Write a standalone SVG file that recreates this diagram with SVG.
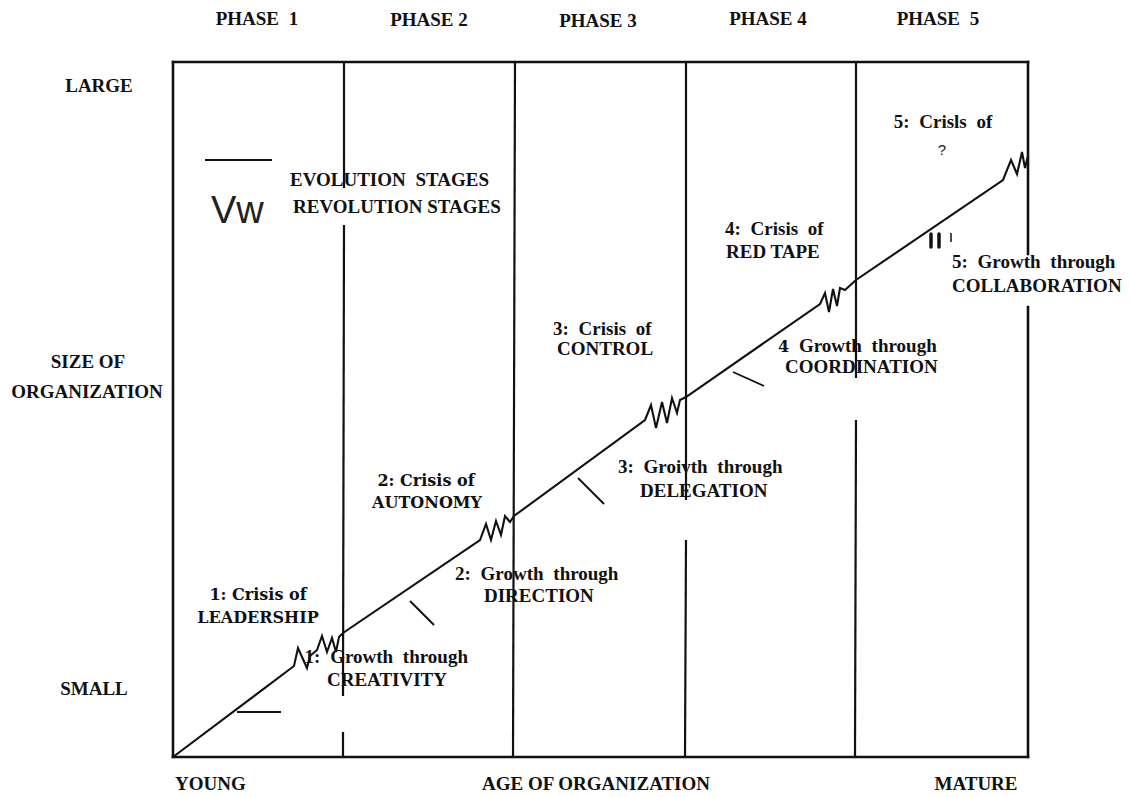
<svg xmlns="http://www.w3.org/2000/svg" width="1130" height="797" viewBox="0 0 1130 797">
<style>
.t{font-family:"Liberation Serif","Times New Roman",serif;font-weight:bold;font-size:19px;fill:#111}
.h{font-family:"DejaVu Serif",serif;font-weight:bold;font-size:16px;fill:#111}
.s{font-family:"Liberation Sans",Arial,sans-serif;fill:#222}
.m{text-anchor:middle}
.ws{word-spacing:5px}
.fr{stroke:#111;stroke-width:2.6;fill:none;stroke-linecap:square}
.dv{stroke:#111;stroke-width:2.2;fill:none}
.cv{stroke:#111;stroke-width:2.1;fill:none;stroke-linejoin:miter}
.ev{stroke:#111;stroke-width:1.9;fill:none}
</style>
<rect width="1130" height="797" fill="#fff"/>
<g id="frame">
<line class="fr" x1="173" y1="62" x2="1028" y2="62"/>
<line class="fr" x1="173" y1="757" x2="1028" y2="757"/>
<line class="fr" x1="173" y1="62" x2="173" y2="757"/>
<line class="fr" x1="1028" y1="62" x2="1028" y2="254"/>
<line class="fr" x1="1028" y1="307" x2="1028" y2="757"/>
</g>
<g id="dividers">
<line class="dv" x1="344" y1="62" x2="344" y2="188"/>
<line class="dv" x1="344" y1="225" x2="343" y2="696"/>
<line class="dv" x1="343" y1="732" x2="343" y2="757"/>
<line class="dv" x1="515" y1="62" x2="513" y2="757"/>
<line class="dv" x1="686" y1="62" x2="686" y2="500"/>
<line class="dv" x1="686" y1="540" x2="685" y2="757"/>
<line class="dv" x1="856" y1="62" x2="856" y2="378"/>
<line class="dv" x1="856" y1="420" x2="855" y2="757"/>
</g>
<g id="phases">
<text class="t m ws" x="257" y="25">PHASE 1</text>
<text class="t m" x="429" y="26">PHASE 2</text>
<text class="t m" x="598" y="27">PHASE 3</text>
<text class="t m" x="768" y="25">PHASE 4</text>
<text class="t m ws" x="938" y="25">PHASE 5</text>
</g>
<g id="axes">
<text class="t m" x="99" y="92">LARGE</text>
<text class="t m" x="88" y="368">SIZE OF</text>
<text class="t m" x="87" y="398">ORGANIZATION</text>
<text class="t m" x="94" y="695">SMALL</text>
<text class="t" x="175" y="790">YOUNG</text>
<text class="t m" x="596" y="790">AGE OF ORGANIZATION</text>
<text class="t m" x="976" y="790">MATURE</text>
</g>
<g id="legend">
<line class="ev" x1="205" y1="160" x2="272" y2="160"/>
<text class="t ws" x="290" y="186">EVOLUTION STAGES</text>
<text class="s" x="211" y="223" font-size="38">Vw</text>
<text class="t" x="293" y="213">REVOLUTION STAGES</text>
</g>
<g id="connectors">
<path class="cv" d="M173,757 L294,666 L298,648 L307,668 L310,656 L317,650 L322,636 L327,652 L332,638 L336,652 L339,637 L343,633 L480,540 L486,524 L491,540 L496,521 L501,535 L505,516 L510,522 L514,516 L645,420 L651,405 L656,428 L662,402 L667,423 L672,398 L677,413 L680,400 L686,397 L820,304 L825,293 L829,312 L833,289 L837,306 L840,288 L845,290 L856,280 L1003,180 L1011,160 L1017,174 L1022,152 L1025,168 L1028,156"/>
<line class="ev" x1="237" y1="712" x2="281" y2="712"/>
<line class="ev" x1="410" y1="601" x2="434" y2="625"/>
<line class="ev" x1="578" y1="478" x2="604" y2="504"/>
<line class="ev" x1="733" y1="372" x2="764" y2="386"/>
<line stroke="#111" stroke-width="3.5" stroke-linecap="round" x1="931" y1="234" x2="931" y2="247"/>
<line stroke="#111" stroke-width="3.5" stroke-linecap="round" x1="939" y1="234" x2="939" y2="247"/>
<line stroke="#111" stroke-width="1.5" x1="951" y1="233" x2="951" y2="242"/>
</g>
<g id="stage1">
<text class="h m" x="258" y="600">1: Crisis of</text>
<text class="h m" x="258" y="623">LEADERSHIP</text>
<text class="t ws" x="468" y="663" text-anchor="end">1: Growth through</text>
<text class="t" x="327" y="686">CREATIVITY</text>
</g>
<g id="stage2">
<text class="h m" x="426" y="486">2: Crisis of</text>
<text class="h m" x="427" y="508">AUTONOMY</text>
<text class="t ws" x="455" y="580">2: Growth through</text>
<text class="t" x="484" y="602">DIRECTION</text>
</g>
<g id="stage3">
<text class="t ws" x="553" y="335">3: Crisis of</text>
<text class="t" x="557" y="355">CONTROL</text>
<text class="t ws" x="618" y="473">3: Groivth through</text>
<text class="t" x="640" y="497">DELEGATION</text>
</g>
<g id="stage4">
<text class="t ws" x="725" y="235">4: Crisis of</text>
<text class="t" x="726" y="258">RED TAPE</text>
<text class="t ws" x="778" y="352"><tspan class="h" font-size="19">4</tspan> Growth through</text>
<text class="t" x="785" y="373">COORDINATION</text>
</g>
<g id="stage5">
<text class="t m ws" x="943" y="128">5: Crisls of</text>
<text class="s m" x="942" y="155" font-size="15">?</text>
<text class="t ws" x="952" y="268">5: Growth through</text>
<text class="t" x="952" y="292">COLLABORATION</text>
</g>
</svg>
